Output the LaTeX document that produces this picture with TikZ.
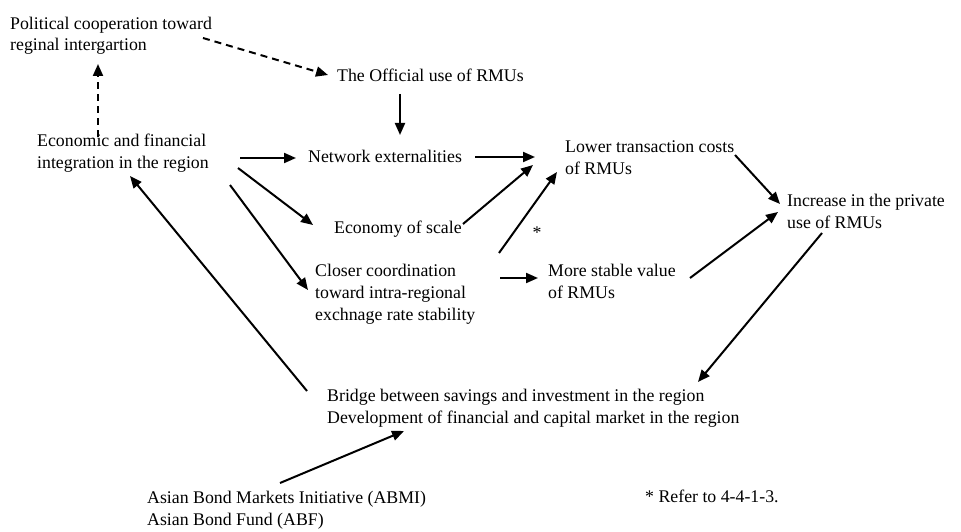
\documentclass[tikz,border=0pt]{standalone}
\usepackage{fontspec}
\setmainfont{Liberation Serif}
\usetikzlibrary{arrows.meta}

\tikzset{
  lbl/.style={anchor=base west, inner sep=0pt, align=left,
              font=\fontsize{17.8}{21.8}\selectfont},
  arr/.style={line width=2pt, -{Triangle[length=12pt,width=10pt]}},
  dasharr/.style={arr, dash pattern=on 7pt off 5pt}
}

\begin{document}
\begin{tikzpicture}[x=1pt, y=-1pt]
  \useasboundingbox (0,0) rectangle (961,532);

  % text blocks (positions give the baseline of the last line)
  \node[lbl] (pol)      at (10,51)  {Political cooperation toward\\reginal intergartion};
  \node[lbl] (official) at (337,82) {The Official use of RMUs};
  \node[lbl] (econ)     at (37,168.5) {Economic and financial\\integration in the region};
  \node[lbl] (network)  at (308,162) {Network externalities};
  \node[lbl] (lower)    at (565,174) {Lower transaction costs\\of RMUs};
  \node[lbl] (scale)    at (334,233) {Economy of scale};
  \node[lbl] (increase) at (787,228) {Increase in the private\\use of RMUs};
  \node[lbl, anchor=base] (star) at (537,238) {*};
  \node[lbl] (closer)   at (315,320) {Closer coordination\\toward intra-regional\\exchnage rate stability};
  \node[lbl] (stable)   at (548,298) {More stable value\\of RMUs};
  \node[lbl] (bridge)   at (327,423) {Bridge between savings and investment in the region\\Development of financial and capital market in the region};
  \node[lbl] (abmi)     at (147,525) {Asian Bond Markets Initiative (ABMI)\\Asian Bond Fund (ABF)};
  \node[lbl] (refer)    at (645,502) {* Refer to 4-4-1-3.};

  % connector end points
  \coordinate (pol-out)      at (203,38);
  \coordinate (official-in)  at (328,75);
  \coordinate (econ-up)      at (98,137);
  \coordinate (pol-in)       at (98,64);
  \coordinate (official-out) at (400,94);
  \coordinate (network-in)   at (400,135);
  \coordinate (econ-out1)    at (240,158);
  \coordinate (network-in2)  at (296,158);
  \coordinate (econ-out2)    at (238,168);
  \coordinate (scale-in)     at (313,225);
  \coordinate (econ-out3)    at (230,185);
  \coordinate (closer-in)    at (308,290);
  \coordinate (bridge-out1)  at (307,391);
  \coordinate (econ-in)      at (130,176);
  \coordinate (network-out)  at (475,157);
  \coordinate (lower-in1)    at (535,157);
  \coordinate (scale-out)    at (463,224);
  \coordinate (lower-in2)    at (533,165);
  \coordinate (closer-out1)  at (499,253);
  \coordinate (lower-in3)    at (557,172);
  \coordinate (closer-out2)  at (500,278);
  \coordinate (stable-in)    at (538,278);
  \coordinate (lower-out)    at (735,155);
  \coordinate (increase-in1) at (780,204);
  \coordinate (stable-out)   at (690,278);
  \coordinate (increase-in2) at (778,212);
  \coordinate (increase-out) at (822,233);
  \coordinate (bridge-in1)   at (698,382);
  \coordinate (abmi-out)     at (280,483);
  \coordinate (bridge-in2)   at (404,431);

  % dashed political links
  \draw[dasharr] (pol-out) -- (official-in);
  \draw[dasharr] (econ-up) -- (pol-in);

  % solid causal links
  \draw[arr] (official-out) -- (network-in);
  \draw[arr] (econ-out1) -- (network-in2);
  \draw[arr] (econ-out2) -- (scale-in);
  \draw[arr] (econ-out3) -- (closer-in);
  \draw[arr] (bridge-out1) -- (econ-in);
  \draw[arr] (network-out) -- (lower-in1);
  \draw[arr] (scale-out) -- (lower-in2);
  \draw[arr] (closer-out1) -- (lower-in3);
  \draw[arr] (closer-out2) -- (stable-in);
  \draw[arr] (lower-out) -- (increase-in1);
  \draw[arr] (stable-out) -- (increase-in2);
  \draw[arr] (increase-out) -- (bridge-in1);
  \draw[arr] (abmi-out) -- (bridge-in2);
\end{tikzpicture}
\end{document}
